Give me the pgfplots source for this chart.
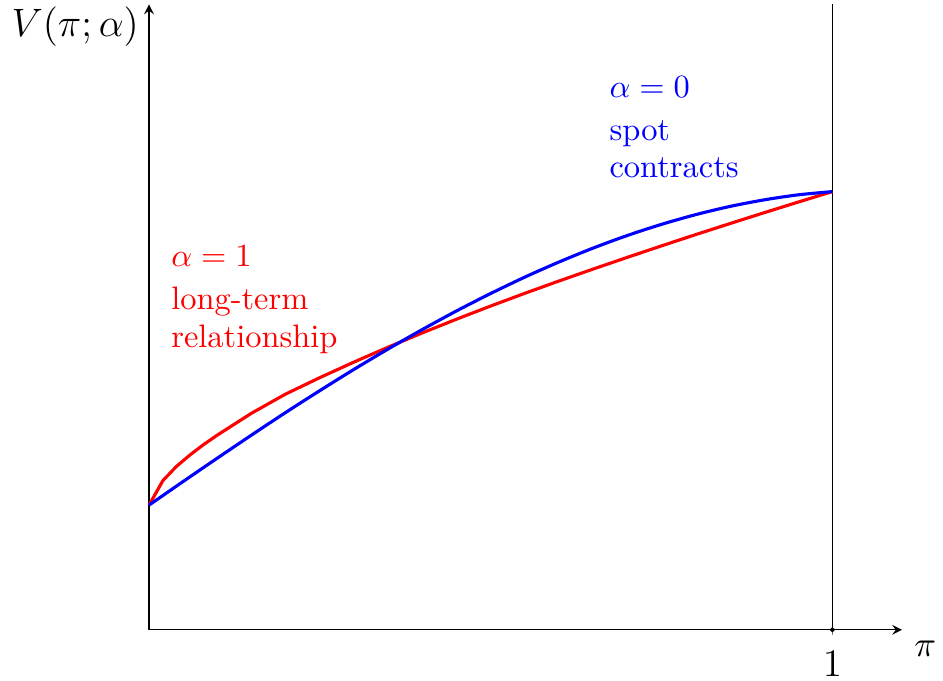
\documentclass[border=0pt]{standalone}
\usepackage{fix-cm}
\usepackage{pgfplots}
\pgfplotsset{compat=1.18}

% Value function V(pi; alpha) for a long-term relationship (alpha = 1)
\pgfplotstableread{
x        y
0        0.1825
0.0204   0.2185
0.04     0.2390
0.06     0.2560
0.08     0.2712
0.10     0.2850
0.15     0.3170
0.20     0.3451
0.25     0.3691
0.30     0.3919
0.35     0.4137
0.40     0.4346
0.45     0.4546
0.50     0.4739
0.55     0.4925
0.60     0.5105
0.65     0.5280
0.70     0.5451
0.75     0.5619
0.80     0.5784
0.85     0.5945
0.90     0.6104
0.95     0.6260
1        0.6413
}\longterm

% ... and for spot contracts (alpha = 0)
\pgfplotstableread{
x        y
0        0.1825
0.05     0.2171
0.10     0.2513
0.15     0.2850
0.20     0.3181
0.25     0.3501
0.30     0.3812
0.35     0.4110
0.40     0.4395
0.45     0.4667
0.50     0.4922
0.55     0.5162
0.60     0.5383
0.65     0.5587
0.70     0.5771
0.75     0.5934
0.80     0.6076
0.85     0.6196
0.90     0.6292
0.95     0.6366
1        0.6413
}\spot

\begin{document}
\begin{tikzpicture}
\begin{axis}[
  x=219pt, y=219pt,
  xmin=0, xmax=1.102,
  ymin=0, ymax=0.9153,
  axis lines=left,
  xtick={1}, ytick=\empty,
  tick align=center,
  major tick length=3pt,
  xticklabel style={font=\fontsize{12.5}{15}\selectfont, inner sep=1.3pt, yshift=-3.8pt},
  clip=false,
]
  % boundary pi = 1
  \addplot[black, line width=0.4pt] coordinates {(1,0) (1,0.9153)};
  \addplot[only marks, mark=*, mark size=0.6pt, black] coordinates {(1,0)};

  \addplot[red, line width=1pt] table[x=x, y=y] {\longterm};
  \addplot[blue, line width=1pt, smooth] table[x=x, y=y] {\spot};

  \begin{scope}[every node/.style={anchor=base west, inner sep=0pt,
      font=\fontsize{10.4}{12.5}\selectfont}]
    \node[text=blue] at (axis cs:0.673,0.7791) {$\alpha=0$};
    \node[text=blue] at (axis cs:0.673,0.7168) {spot};
    \node[text=blue] at (axis cs:0.673,0.6623) {contracts};
    \node[text=red]  at (axis cs:0.0317,0.5324) {$\alpha=1$};
    \node[text=red]  at (axis cs:0.0317,0.4686) {long-term};
    \node[text=red]  at (axis cs:0.0317,0.4127) {relationship};
  \end{scope}

  \node[anchor=base west, inner xsep=3.74pt, inner ysep=2.2pt,
        font=\fontsize{12.7}{15}\selectfont]
    at (axis cs:-0.219,0.8682) {$V(\pi;\alpha)$};
  \node[inner sep=2.2pt, font=\fontsize{11.5}{14}\selectfont]
    at (axis cs:1.136,-0.0277) {$\pi$};
\end{axis}
\end{tikzpicture}
\end{document}
